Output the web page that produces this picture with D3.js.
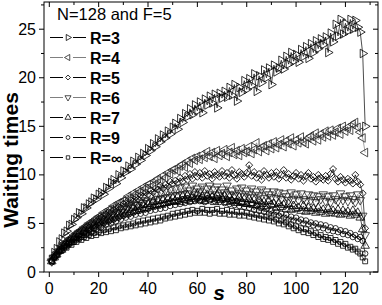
<!DOCTYPE html>
<html><head><meta charset="utf-8">
<script src="https://cdn.jsdelivr.net/npm/d3@7"></script>
<style>
body{margin:0;background:#fff;}
svg{display:block;font-family:"Liberation Sans",Arial,sans-serif;}
</style></head>
<body>
<svg id="c" width="382" height="305"></svg>
<script>
const seriesNames = ["R=3","R=4","R=5","R=6","R=7","R=9","R=\u221e"];
const R3 = [1.3,2.0,2.4,3.1,3.4,4.0,4.2,4.8,4.9,5.4,
5.6,6.1,6.0,6.6,6.6,7.0,7.2,7.6,7.5,8.0,
8.2,8.0,8.7,8.6,9.2,9.5,9.1,10.0,9.7,10.4,
10.3,10.9,10.6,11.4,11.1,11.8,11.5,12.2,12.0,12.7,
12.5,13.2,12.9,13.7,13.4,14.1,13.8,14.5,14.2,14.9,
15.3,14.7,15.8,15.4,16.3,16.0,16.8,16.2,17.2,16.6,
17.5,16.4,17.8,17.2,18.1,17.4,18.3,16.9,18.4,17.9,
18.6,18.0,19.0,18.2,19.3,17.6,19.0,18.5,19.7,18.8,
19.9,19.2,20.4,18.6,20.2,19.5,20.8,20.0,21.0,19.3,
21.3,20.6,21.0,21.8,20.9,22.2,21.4,22.6,21.7,22.4,
21.6,22.9,22.2,23.2,22.0,23.5,22.6,23.8,23.0,24.0,
23.4,24.2,22.6,24.6,23.7,25.5,24.3,26.0,24.5,25.6,
24.8,26.0,25.0,25.9,25.2,24.7,22.5,15.0];
const R4 = [1.2,1.6,2.0,2.3,2.6,2.9,3.1,3.4,3.5,3.8,
4.0,4.2,4.3,4.6,4.7,5.0,5.1,5.3,5.5,5.7,
5.8,6.1,6.0,6.4,6.5,6.8,6.7,7.1,7.2,7.3,
7.5,7.8,7.6,8.1,8.0,8.4,8.3,8.7,8.6,9.0,
9.1,8.9,9.4,9.6,9.3,9.9,9.7,10.2,10.1,10.5,
10.6,10.4,10.9,11.1,10.8,11.4,11.2,11.7,11.5,11.9,
11.6,12.1,11.8,12.4,11.9,12.3,11.7,12.5,12.0,12.2,
12.6,11.9,12.3,12.8,12.1,12.5,12.0,12.7,12.3,12.4,
12.9,12.2,12.6,13.3,12.4,12.8,13.0,12.5,13.2,12.7,
13.4,12.8,13.1,13.6,12.9,13.5,13.2,13.8,13.0,13.6,
13.3,13.9,13.4,13.2,13.8,14.0,13.5,14.3,13.6,14.2,
13.9,14.5,14.0,14.6,14.1,14.4,14.8,14.2,15.0,14.5,
14.9,14.6,15.2,15.4,14.9,14.4,13.8,12.3];
const R5 = [1.2,1.5,1.9,2.2,2.5,2.8,3.0,3.3,3.4,3.7,
3.9,4.1,4.2,4.5,4.6,4.8,5.0,5.1,5.2,5.5,
5.6,5.8,5.9,6.2,6.1,6.4,6.5,6.7,6.6,7.0,
7.1,7.0,7.4,7.3,7.7,7.5,7.9,7.8,8.2,8.0,
8.4,8.2,8.6,8.5,8.9,8.6,9.0,8.8,9.3,9.1,
9.4,9.2,9.7,9.3,9.9,9.5,10.1,9.6,10.3,9.8,
10.2,9.7,10.4,9.9,10.1,9.6,10.3,10.0,9.8,10.4,
9.9,10.2,9.7,10.5,10.0,9.6,10.3,10.1,9.8,10.2,
11.0,9.9,10.3,9.7,10.1,9.5,10.4,10.0,9.7,10.2,
9.8,10.3,9.6,10.0,10.5,9.7,10.1,9.5,9.9,10.2,
9.6,10.0,9.4,9.9,10.2,9.6,9.8,9.3,10.0,9.7,
9.5,9.9,9.4,10.1,10.6,9.6,9.3,9.8,9.5,9.2,
9.6,9.4,9.1,10.0,9.3,9.0,8.1,4.5];
const R6 = [1.1,1.5,1.8,2.1,2.4,2.7,2.9,3.1,3.3,3.5,
3.7,3.9,4.1,4.3,4.4,4.6,4.8,4.9,5.0,5.2,
5.3,5.5,5.5,5.8,5.7,6.0,6.1,6.2,6.2,6.5,
6.5,6.7,6.6,6.9,7.0,6.9,7.2,7.1,7.4,7.3,
7.8,7.2,8.0,7.5,8.2,7.6,8.4,7.7,8.5,7.9,
8.6,7.9,8.7,8.0,8.8,8.1,8.4,8.9,8.0,8.6,
8.3,8.8,7.9,8.6,8.9,8.0,8.5,8.8,7.9,8.5,
8.2,8.9,8.0,8.4,7.9,8.6,8.1,8.7,7.8,8.4,
8.0,8.6,7.7,8.3,7.9,8.5,7.6,8.3,8.0,7.7,
8.3,7.6,8.2,7.5,8.1,7.8,7.4,8.2,7.5,8.0,
7.4,8.1,7.5,7.3,8.0,7.4,7.9,7.2,7.8,7.5,
8.0,7.3,7.8,7.2,7.9,7.5,7.3,8.1,7.4,7.8,
7.3,7.9,7.5,7.2,8.0,7.4,5.8,3.8];
const R7 = [1.1,1.5,1.8,2.2,2.3,2.7,2.8,3.1,3.1,3.5,
3.5,3.9,3.8,4.2,4.1,4.5,4.4,4.8,4.7,5.1,
5.0,5.3,5.2,5.6,5.4,5.8,5.6,6.0,5.8,6.2,
6.0,6.4,6.2,6.6,6.3,6.7,6.5,6.9,6.6,7.0,
6.8,7.2,6.9,7.3,7.0,7.4,7.1,7.5,7.2,7.6,
7.3,7.7,7.2,7.8,7.4,7.9,7.3,7.7,7.5,8.0,
7.4,7.8,7.3,7.9,7.5,7.7,7.2,7.9,7.4,7.6,
7.8,7.2,7.7,7.3,7.6,7.1,7.7,7.2,7.5,7.0,
7.5,7.1,7.4,6.9,7.3,7.0,7.2,6.8,7.3,6.9,
7.0,6.6,7.1,6.7,6.9,6.5,7.0,6.4,6.8,6.5,
6.6,6.3,6.8,6.2,6.6,6.3,6.5,6.1,6.6,6.2,
6.4,6.0,6.5,6.1,6.3,6.0,6.4,5.9,6.3,6.0,
6.2,5.8,6.3,5.9,6.1,5.6,4.4,2.7];
const R9 = [1.0,1.5,1.7,2.1,2.2,2.6,2.6,3.0,3.0,3.4,
3.3,3.7,3.6,4.0,3.9,4.3,4.1,4.5,4.4,4.8,
4.6,5.0,4.9,5.2,5.0,5.4,5.2,5.6,5.4,5.8,
5.6,5.9,5.7,6.1,5.9,6.3,6.0,6.4,6.1,6.5,
6.3,6.7,6.4,6.8,6.5,6.9,6.6,7.1,6.8,7.2,
6.9,7.3,7.0,7.5,7.1,7.6,7.2,7.7,7.3,7.6,
7.3,7.7,7.2,7.6,7.4,7.8,7.3,7.6,7.2,7.5,
7.1,7.5,7.0,7.4,6.9,7.3,6.8,7.1,6.7,7.0,
6.6,6.9,6.4,6.8,6.3,6.6,6.2,6.5,6.0,6.3,
5.9,6.2,5.8,6.0,5.6,5.9,5.4,5.7,5.3,5.6,
5.2,5.4,5.0,5.3,4.9,5.1,4.8,5.0,4.6,4.9,
4.5,4.8,4.3,4.6,4.2,4.5,4.1,4.3,3.9,4.2,
3.8,4.0,3.6,3.8,3.4,3.6,3.2,1.9];
const Rinf = [1.1,1.6,1.7,2.1,2.2,2.5,2.5,2.9,2.8,3.1,
3.1,3.4,3.3,3.6,3.5,3.8,3.7,4.0,3.8,4.1,
4.0,4.3,4.1,4.4,4.2,4.6,4.3,4.7,4.5,4.8,
4.6,4.9,4.7,5.0,4.8,5.2,4.9,5.3,5.0,5.4,
5.1,5.5,5.2,5.6,5.3,5.7,5.5,5.8,5.6,6.0,
5.7,6.1,5.8,6.2,5.9,6.3,6.0,6.4,6.1,6.3,
6.1,6.5,6.1,6.4,6.0,6.4,6.1,6.5,6.0,6.3,
6.0,6.4,5.9,6.3,5.9,6.2,5.8,6.2,5.8,6.1,
5.7,6.0,5.6,5.9,5.5,5.8,5.4,5.7,5.3,5.6,
5.2,5.4,5.0,5.3,4.9,5.1,4.7,4.9,4.5,4.7,
4.3,4.5,4.1,4.4,4.0,4.2,3.8,4.0,3.6,3.8,
3.4,3.6,3.3,3.5,3.1,3.3,2.9,3.1,2.7,2.9,
2.5,2.6,2.3,2.4,2.1,1.9,1.5,1.1];
const xTicks = [0,20,40,60,80,100,120];
const yTicks = [0,5,10,15,20,25];
const legendTitle = "N=128 and F=5";
const xLabel = "s";
const yLabel = "Waiting times";

const allSeries = [R3,R4,R5,R6,R7,R9,Rinf];
const lineColors = ["#000","#808080","#000","#808080","#000","#000","#000"];
const markColors = ["#000","#222","#000","#222","#000","#000","#000"];
const symDefs = [
  [d3.symbolTriangle, 90],
  [d3.symbolTriangle, -90],
  [d3.symbolSquare, 45],
  [d3.symbolTriangle, 180],
  [d3.symbolTriangle, 0],
  [d3.symbolCircle, 0],
  [d3.symbolSquare, 0]
];
const symSize = [32,32,24,32,32,24,24];

const svg = d3.select("#c");
const L=44, Rr=378, T=2, B=272;
const x = d3.scaleLinear().domain([-2.15,133.2]).range([L,Rr]);
const y = d3.scaleLinear().domain([0,27.8]).range([B,T]);

svg.append("defs").append("clipPath").attr("id","cp")
  .append("rect").attr("x",L).attr("y",T).attr("width",Rr-L).attr("height",B-T);

const plot = svg.append("g").attr("clip-path","url(#cp)");
const line = d3.line().x((d,i)=>x(i+1)).y(d=>y(d));

allSeries.forEach((s,k)=>{
  plot.append("path").attr("d",line(s)).attr("fill","none")
    .attr("stroke",lineColors[k]).attr("stroke-width",0.7);
});
allSeries.forEach((s,k)=>{
  const sym = d3.symbol().type(symDefs[k][0]).size(symSize[k]);
  plot.append("g").selectAll("path").data(s).join("path")
    .attr("d",sym)
    .attr("transform",(d,i)=>`translate(${x(i+1)},${y(d)}) rotate(${symDefs[k][1]})`)
    .attr("fill","none").attr("stroke",markColors[k]).attr("stroke-width",0.8);
});

// axes
const ax = svg.append("g").attr("stroke","#000").attr("stroke-width",1);
ax.append("rect").attr("x",L).attr("y",T).attr("width",Rr-L).attr("height",B-T)
  .attr("fill","none");
const xMinor = d3.range(0,131,10);
const yMinor = d3.range(0,27.6,2.5);
xMinor.forEach(v=>{
  const len = (v%20===0)?5:3;
  ax.append("line").attr("x1",x(v)).attr("x2",x(v)).attr("y1",B).attr("y2",B+len);
  ax.append("line").attr("x1",x(v)).attr("x2",x(v)).attr("y1",T).attr("y2",T+len);
});
yMinor.forEach(v=>{
  const len = (v%5===0)?5:3;
  ax.append("line").attr("y1",y(v)).attr("y2",y(v)).attr("x1",L).attr("x2",L-len);
  ax.append("line").attr("y1",y(v)).attr("y2",y(v)).attr("x1",Rr).attr("x2",Rr-len);
});
svg.append("g").selectAll("text").data(xTicks).join("text")
  .attr("x",d=>x(d)).attr("y",294).attr("text-anchor","middle")
  .attr("font-size",16).text(d=>d);
svg.append("g").selectAll("text").data(yTicks).join("text")
  .attr("x",36).attr("y",d=>y(d)+5.5).attr("text-anchor","end")
  .attr("font-size",16).text(d=>d);

svg.append("text").attr("x",219).attr("y",300).attr("text-anchor","middle")
  .attr("font-size",21).attr("font-weight","bold").attr("font-style","italic").text(xLabel);
svg.append("text").attr("transform","translate(18,160) rotate(-90)")
  .attr("text-anchor","middle").attr("font-size",21).attr("font-weight","bold").text(yLabel);

// legend
svg.append("text").attr("x",57).attr("y",20).attr("font-size",16.5).text(legendTitle);
seriesNames.forEach((n,k)=>{
  const cy = 37.5 + k*20;
  const g = svg.append("g");
  g.append("line").attr("x1",50).attr("x2",63).attr("y1",cy).attr("y2",cy)
    .attr("stroke",lineColors[k]).attr("stroke-width",1);
  g.append("line").attr("x1",73).attr("x2",86).attr("y1",cy).attr("y2",cy)
    .attr("stroke",lineColors[k]).attr("stroke-width",1);
  g.append("path").attr("d",d3.symbol().type(symDefs[k][0]).size(symSize[k]*0.5)())
    .attr("transform",`translate(68,${cy}) rotate(${symDefs[k][1]})`)
    .attr("fill","none").attr("stroke",markColors[k]).attr("stroke-width",0.8);
  g.append("text").attr("x",90).attr("y",cy+6).attr("font-size",16)
    .attr("font-weight","bold").text(n);
});
</script>
</body></html>
